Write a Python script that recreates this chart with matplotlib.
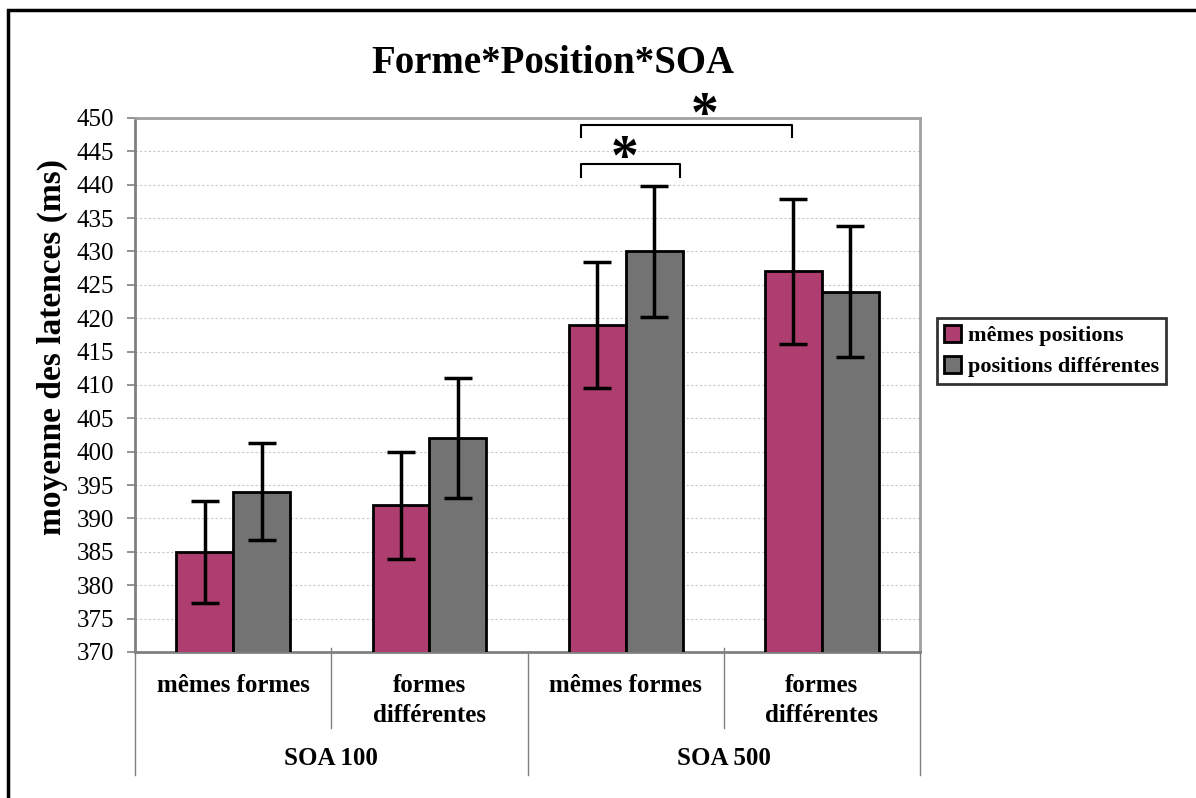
import matplotlib
matplotlib.use("Agg")
import matplotlib.pyplot as plt
import matplotlib.transforms as mtransforms
import numpy as np

plt.rcParams['font.family'] = ['Liberation Serif', 'DejaVu Serif']

# data
forme_labels = ["mêmes formes", "formes\ndifférentes", "mêmes formes", "formes\ndifférentes"]
soa_labels = ["SOA 100", "SOA 500"]
series_names = ["mêmes positions", "positions différentes"]
memes_pos = [385, 392, 419, 427]
memes_pos_err = [7.6, 8.0, 9.4, 10.9]
pos_diff = [394, 402, 430, 424]
pos_diff_err = [7.3, 9.0, 9.8, 9.8]

col_mag = "#ad3e6f"
col_gris = "#737373"

fig = plt.figure(figsize=(11.96, 7.98), dpi=100)
ax = fig.add_axes([0.1129, 0.1830, 0.6564, 0.6692])

x = np.arange(len(memes_pos))
w = 0.29
ekw = dict(ecolor="black", elinewidth=2.5, capsize=10, capthick=2.5)
b1 = ax.bar(x - w/2, memes_pos, w, color=col_mag, edgecolor="black",
            linewidth=2, yerr=memes_pos_err, error_kw=ekw, label=series_names[0], zorder=3)
b2 = ax.bar(x + w/2, pos_diff, w, color=col_gris, edgecolor="black",
            linewidth=2, yerr=pos_diff_err, error_kw=ekw, label=series_names[1], zorder=3)

ax.set_ylim(370, 450)
ax.set_xlim(-0.5, 3.5)
ax.set_yticks(np.arange(370, 451, 5))
ax.tick_params(axis='y', labelsize=18, direction='out', length=6, color="#808080",
               width=1.2, pad=9)
ax.set_xticks([])
ax.yaxis.grid(True, linestyle=(0, (2, 2)), color="#c8c8c8", linewidth=0.8, zorder=0)
for s in ax.spines.values():
    s.set_color("#a0a0a0")
    s.set_linewidth(2)
ax.spines['left'].set_color("#808080")
ax.spines['bottom'].set_color("#808080")

ax.set_ylabel("moyenne des latences (ms)", fontsize=24, fontweight="bold")
ax.yaxis.set_label_coords(-0.086, 0.571)
fig.text(0.4624, 0.921, "Forme*Position*SOA", fontsize=28, fontweight="bold",
         ha="center", va="center")

# category axis below
trans = mtransforms.blended_transform_factory(ax.transData, ax.transAxes)
for xs in [0.5, 2.5]:
    ax.plot([xs, xs], [0.008, -0.142], transform=trans, color="#808080", lw=1, clip_on=False)
for xs in [-0.5, 1.5, 3.5]:
    ax.plot([xs, xs], [0, -0.23], transform=trans, color="#808080", lw=1, clip_on=False)
for i, lab in enumerate(forme_labels):
    ax.text(i, -0.042, lab, transform=trans, ha="center", va="top", fontsize=18,
            fontweight="bold", linespacing=1.35)
for j, lab in enumerate(soa_labels):
    ax.text(0.5 + 2*j, -0.199, lab, transform=trans, ha="center", va="center",
            fontsize=18, fontweight="bold")

# significance brackets
ax.plot([1.77, 1.77, 2.276, 2.276], [441.2, 443.1, 443.1, 441.2], color="black", lw=1.5, clip_on=False, zorder=4)
ax.plot([1.77, 1.77, 2.847, 2.847], [447.1, 449.0, 449.0, 447.1], color="black", lw=1.5, clip_on=False, zorder=4)
ax.text(1.995, 443.7, "*", fontsize=40, fontweight="bold", ha="center", va="center", clip_on=False)
ax.text(2.40, 450.1, "*", fontsize=40, fontweight="bold", ha="center", va="center", clip_on=False)

leg = fig.legend(handles=[b1, b2], labels=series_names, loc="upper left",
                 bbox_to_anchor=(0.7834, 0.6015), prop=dict(size=16, weight="bold"),
                 frameon=True, fancybox=False, shadow=False, handlelength=0.8,
                 handleheight=0.8, handletextpad=0.3, borderpad=0.3, labelspacing=0.45,
                 borderaxespad=0)
leg.get_frame().set_edgecolor("black")
leg.get_frame().set_linewidth(2)

# outer frame
fig.patches.append(plt.Rectangle((8/1196, -0.05), 1.1, 1 - 10/798 + 0.05,
                                 transform=fig.transFigure, fill=False,
                                 edgecolor="black", linewidth=2.5))

fig.savefig("out.png", dpi=100)
